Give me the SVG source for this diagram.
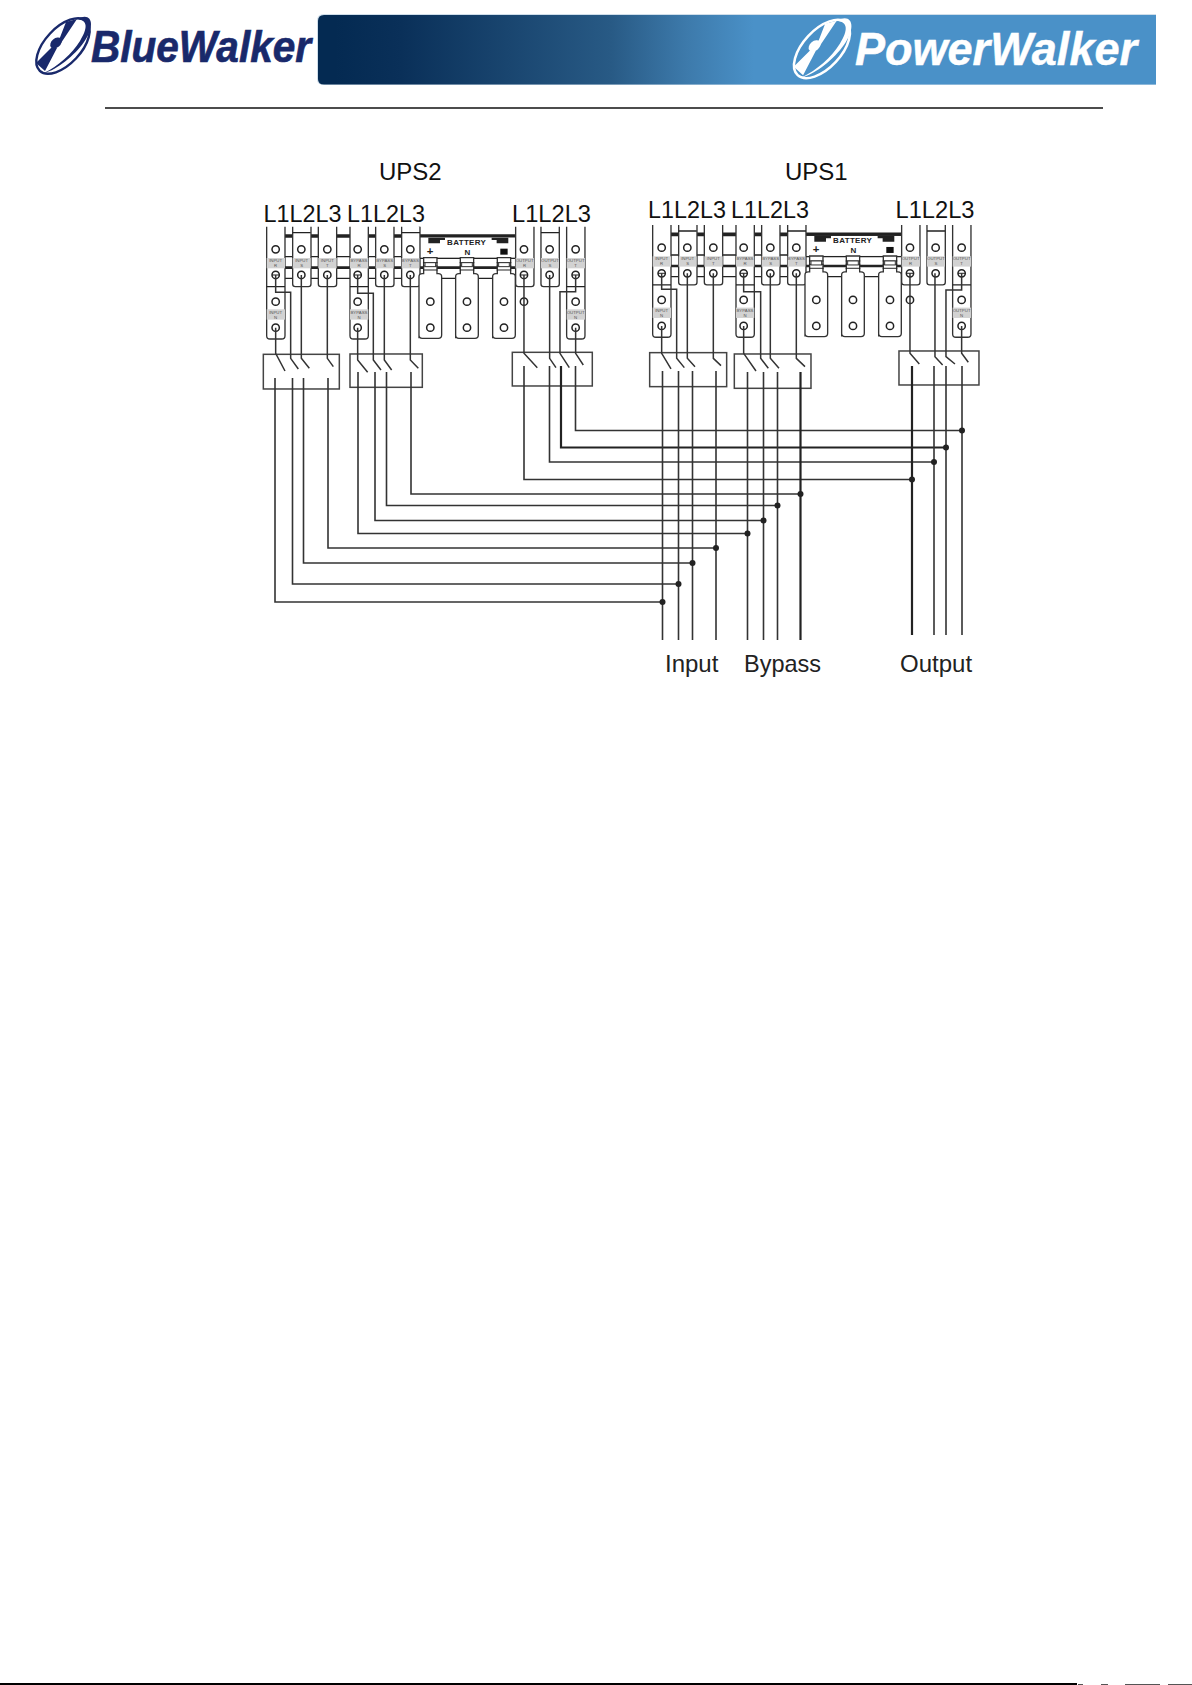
<svg xmlns="http://www.w3.org/2000/svg" xmlns:xlink="http://www.w3.org/1999/xlink" width="1192" height="1685" viewBox="0 0 1192 1685">
<style>
text{font-family:"Liberation Sans",Arial,sans-serif;fill:#222}
.big{font-size:24px;fill:#111}
.logo{font-weight:700;font-style:italic}
.lbl{font-size:13px;fill:#555;text-anchor:middle}
.lug{fill:#fff;stroke:#333;stroke-width:4}
.rail{stroke:#222;fill:none}
.hole{fill:#fff;stroke:#222;stroke-width:4.5}
.grey{fill:#d2d2d2}
.w{fill:none;stroke:#333;stroke-width:4.5}
.box{fill:none;stroke:#444;stroke-width:4.5}
.bus{fill:none;stroke:#333;stroke-width:1.6}
.heavy{fill:none;stroke:#222;stroke-width:2.2}
.dot{fill:#222}
</style>
<defs>
<linearGradient id="band" x1="318" x2="1156" y1="0" y2="0" gradientUnits="userSpaceOnUse">
<stop offset="0.02" stop-color="#042a52"/><stop offset="0.1" stop-color="#0a3059"/><stop offset="0.35" stop-color="#285a85"/><stop offset="0.44" stop-color="#3d7aab"/><stop offset="0.52" stop-color="#4a91c8"/><stop offset="1" stop-color="#4a91c8"/>
</linearGradient>
<g id="wheel">
<ellipse cx="0" cy="0" rx="34" ry="18" transform="rotate(-47)" fill="none" stroke="currentColor" stroke-width="2.4"/>
<path d="M14,-27 C29,-35 33,-21 21,-4 C12,9 -6,24 -19,27 C-5,20 9,8 17,-5 C25,-18 25,-26 14,-27Z" fill="currentColor"/>
<ellipse cx="-7" cy="-3" rx="6.500" ry="4.500" transform="rotate(-40 -7 -3)" fill="currentColor"/>
<path d="M-4,-6 L3,-24 L14,-27 L-2,-3Z M-10,0 L-27,17 L-18,25 L-6,2Z" fill="currentColor"/>
</g>
<path id="lug" class="lug" d="M0,110V282Q0,290 8,290H47Q55,290 55,282V110"/>
<path id="longlug" class="lug" d="M0,110V437Q0,447 10,447H45Q55,447 55,437V110"/>
<g id="blugtop">
<path class="lug" d="M0,447V262Q0,253 10,253H14V205H54V253H58Q68,253 68,262V437Q68,447 58,447H10Q0,447 0,437Z" transform="translate(0,-2)"/>
<path d="M12,218H56M12,228H56M12,240H56" class="rail" stroke-width="3"/>
<rect x="18" y="218" width="32" height="12" fill="#fff" stroke="#333" stroke-width="3"/>
<circle class="hole" cx="34" cy="335" r="11"/><circle class="hole" cx="34" cy="413" r="11"/>
</g>
<g id="terminals">
<path class="rail" stroke-width="11" d="M105,138H795"/>
<path class="rail" stroke-width="4" d="M105,200H795M105,265H795"/>
<path class="rail" stroke-width="8" d="M105,233H795"/>
<rect x="510" y="143" width="285" height="60" fill="#fff"/>
<path d="M535,143H585V150H570V160H535ZM725,143H775V160H740V150H725Z" fill="#222"/>
<path class="rail" stroke-width="4" d="M508,110V205H795"/>
<use xlink:href="#longlug" href="#longlug" x="50"/>
<use xlink:href="#lug" href="#lug" x="128"/>
<use xlink:href="#lug" href="#lug" x="205"/>
<use xlink:href="#longlug" href="#longlug" x="300"/>
<use xlink:href="#lug" href="#lug" x="377"/>
<use xlink:href="#lug" href="#lug" x="455"/>
<use xlink:href="#lug" href="#lug" x="797"/>
<use xlink:href="#lug" href="#lug" x="873"/>
<use xlink:href="#longlug" href="#longlug" x="950"/>
<path class="rail" stroke-width="4" d="M128,128H182M455,128H510M873,128H927M50,290H105M300,290H355M950,290H1005"/>
<use xlink:href="#blugtop" href="#blugtop" x="507"/>
<use xlink:href="#blugtop" href="#blugtop" x="617"/>
<use xlink:href="#blugtop" href="#blugtop" x="728"/>
<g class="grey"><rect x="50" y="204" width="55" height="31"/><rect x="128" y="204" width="54" height="31"/><rect x="205" y="204" width="55" height="31"/><rect x="300" y="204" width="55" height="31"/><rect x="377" y="204" width="54" height="31"/><rect x="455" y="204" width="53" height="31"/><rect x="797" y="204" width="55" height="31"/><rect x="873" y="204" width="54" height="31"/><rect x="950" y="204" width="55" height="31"/><rect x="50" y="358" width="55" height="31"/><rect x="300" y="358" width="55" height="31"/><rect x="950" y="358" width="55" height="31"/></g>
<g class="lbl">
<text class="lbl" x="77" y="215">INPUT</text><text class="lbl" x="77" y="231">R</text>
<text class="lbl" x="155" y="215">INPUT</text><text class="lbl" x="155" y="231">S</text>
<text class="lbl" x="232" y="215">INPUT</text><text class="lbl" x="232" y="231">T</text>
<text class="lbl" x="327" y="215">BYPASS</text><text class="lbl" x="327" y="231">R</text>
<text class="lbl" x="404" y="215">BYPASS</text><text class="lbl" x="404" y="231">S</text>
<text class="lbl" x="481" y="215">BYPASS</text><text class="lbl" x="481" y="231">T</text>
<text class="lbl" x="824" y="215">OUTPUT</text><text class="lbl" x="824" y="231">R</text>
<text class="lbl" x="900" y="215">OUTPUT</text><text class="lbl" x="900" y="231">S</text>
<text class="lbl" x="977" y="215">OUTPUT</text><text class="lbl" x="977" y="231">T</text>
<text class="lbl" x="77" y="371">INPUT</text><text class="lbl" x="77" y="386">N</text>
<text class="lbl" x="327" y="371">BYPASS</text><text class="lbl" x="327" y="386">N</text>
<text class="lbl" x="977" y="371">OUTPUT</text><text class="lbl" x="977" y="386">N</text>
</g>
<text x="650" y="164" text-anchor="middle" style="font-size:24px;font-weight:700;letter-spacing:1px;fill:#222">BATTERY</text>
<text x="540" y="195" text-anchor="middle" style="font-size:34px;font-weight:700;fill:#222">+</text>
<text x="652" y="195" text-anchor="middle" style="font-size:24px;font-weight:700;fill:#222">N</text>
<rect x="751" y="176" width="22" height="18" fill="#111"/>
<g class="hole">
<circle cx="77" cy="178" r="11"/><circle cx="154" cy="178" r="11"/><circle cx="232" cy="178" r="11"/><circle cx="323" cy="178" r="11"/><circle cx="403" cy="178" r="11"/><circle cx="481" cy="178" r="11"/><circle cx="822" cy="178" r="11"/><circle cx="899" cy="178" r="11"/><circle cx="977" cy="178" r="11"/>
<circle cx="77" cy="255" r="11"/><circle cx="154" cy="255" r="11"/><circle cx="232" cy="255" r="11"/><circle cx="323" cy="255" r="11"/><circle cx="403" cy="255" r="11"/><circle cx="481" cy="255" r="11"/><circle cx="822" cy="255" r="11"/><circle cx="899" cy="255" r="11"/><circle cx="977" cy="255" r="11"/>
<circle cx="77" cy="335" r="11"/><circle cx="323" cy="335" r="11"/><circle cx="977" cy="335" r="11"/><circle cx="822" cy="335" r="11"/>
<circle cx="77" cy="413" r="11"/><circle cx="323" cy="413" r="11"/><circle cx="977" cy="413" r="11"/>
</g>
<path class="rail" stroke-width="3" d="M66,255H88M312,255H334M811,255H833M966,255H988"/>
</g>
</defs>

<g id="header">
<path d="M1156,14H324Q317,14 317,21V79Q317,85 324,85H1156Z" fill="#cfdeea"/>
<path d="M1156,15H324Q318,15 318,21V79Q318,84.500 324,84.500H1156Z" fill="url(#band)"/>
<g id="logo-bluewalker" color="#19296b">
<use xlink:href="#wheel" href="#wheel" transform="translate(63,46)"/>
<text x="91" y="62" class="logo" style="font-size:45px;fill:#19296b;stroke:#19296b;stroke-width:0.7" textLength="220" lengthAdjust="spacingAndGlyphs">BlueWalker</text>
</g>
<g id="logo-powerwalker" color="#ffffff">
<use xlink:href="#wheel" href="#wheel" transform="translate(822,49) scale(1.05)"/>
<text x="855" y="65" class="logo" style="font-size:47px;fill:#ffffff;stroke:#ffffff;stroke-width:0.5" textLength="282" lengthAdjust="spacingAndGlyphs">PowerWalker</text>
</g>
<path d="M105,108H1103" stroke="#111" stroke-width="1.6"/>
</g>

<g id="ups2">
<text class="big" x="379" y="180">UPS2</text>
<text class="big" x="263.500" y="222" textLength="78" lengthAdjust="spacingAndGlyphs">L1L2L3</text>
<text class="big" x="347" y="222" textLength="78" lengthAdjust="spacingAndGlyphs">L1L2L3</text>
<text class="big" x="512" y="222" textLength="79" lengthAdjust="spacingAndGlyphs">L1L2L3</text>
<use id="ups2-terminals" xlink:href="#terminals" href="#terminals" transform="translate(250,190) scale(0.3333)"/>
</g>
<g id="ups1">
<text class="big" x="785" y="180">UPS1</text>
<text class="big" x="648" y="218" textLength="78" lengthAdjust="spacingAndGlyphs">L1L2L3</text>
<text class="big" x="731" y="218" textLength="78" lengthAdjust="spacingAndGlyphs">L1L2L3</text>
<text class="big" x="895.500" y="218" textLength="79" lengthAdjust="spacingAndGlyphs">L1L2L3</text>
<use id="ups1-terminals" xlink:href="#terminals" href="#terminals" transform="translate(636,188.300) scale(0.3333)"/>
</g>

<g id="switch-ups2-input" transform="translate(250,190) scale(0.3333)"><rect class="box" x="40" y="493" width="228" height="104"/></g>
<g id="switch-ups2-bypass" transform="translate(250,190) scale(0.3333)"><rect class="box" x="300" y="492" width="217" height="100"/></g>
<g id="switch-ups2-output" transform="translate(250,190) scale(0.3333)"><rect class="box" x="787" y="487" width="240" height="101"/></g>
<g id="switch-ups1-input" transform="translate(640,190) scale(0.3333)"><rect class="box" x="29" y="488" width="231" height="102"/></g>
<g id="switch-ups1-bypass" transform="translate(640,190) scale(0.3333)"><rect class="box" x="283" y="492" width="230" height="103"/></g>
<g id="switch-ups1-output" transform="translate(640,190) scale(0.3333)"><rect class="box" x="777" y="483" width="240" height="102"/></g>

<g id="connectors">
<g transform="translate(250,190) scale(0.3333)">
<path class="w" d="M77,255V307H122V505L145,537M77,413V490L105,543M154,255V505L178,535M232,255V505L250,530"/>
<path class="w" d="M323,255V310H370V510L393,540M323,413V510L353,547M403,255V510L425,540M481,255V510L505,535"/>
<path class="w" d="M822,255V490L862,533M899,255V505L918,533M977,255V305H930V490L958,533M977,413V490L1000,525"/>
</g>
<g transform="translate(640,190) scale(0.3333)">
<path class="w" d="M65,250V298H110V505L133,533M65,408V490L93,537M142,250V505L165,530M220,250V505L243,527"/>
<path class="w" d="M311,250V305H362V505L385,535M311,408V490L348,543M391,250V505L417,535M469,250V505L495,530"/>
<path class="w" d="M810,250V490L838,522M885,250V500L908,525M965,250V300H918V500L945,522M965,408V490L985,517"/>
</g>
<path class="bus" d="M275,378V602H662.500M292.500,378V584H678.500M303.500,378V563H692.500M328,378V548H716"/>
<path class="bus" d="M358,372V533.500H747.500M375,372V520.500H763.500M386.500,372V505.500H777.500M411,372V494H800"/>
<path class="bus" d="M524,366V479.500H912M549.500,366V462H934M575.500,366V430.500H962"/>
<path class="heavy" d="M561,366V447.500H946"/>
<path class="bus" d="M662.500,371V640M678.500,371V640M692.500,371V640M716,371V640"/>
<path class="bus" d="M747.500,372V640M763.500,372V640M777.500,372V640"/>
<path class="heavy" d="M800.500,372V640"/>
<path class="heavy" d="M912,366V635"/>
<path class="bus" d="M934,366V635M946,366V635M962,366V635"/>
<g class="dot">
<circle cx="662.500" cy="602" r="3"/><circle cx="678.500" cy="584" r="3"/><circle cx="692.500" cy="563" r="3"/><circle cx="716" cy="548" r="3"/>
<circle cx="747.500" cy="533.500" r="3"/><circle cx="763.500" cy="520.500" r="3"/><circle cx="777.500" cy="505.500" r="3"/><circle cx="800.500" cy="494" r="3"/>
<circle cx="912" cy="479.500" r="3"/><circle cx="934" cy="462" r="3"/><circle cx="946" cy="447.500" r="3"/><circle cx="962" cy="430.500" r="3"/>
</g>
</g>

<g id="bus-labels">
<text class="big" x="665" y="672" style="fill:#222">Input</text>
<text class="big" x="744" y="672" textLength="77" lengthAdjust="spacingAndGlyphs" style="fill:#222">Bypass</text>
<text class="big" x="900" y="672" style="fill:#222">Output</text>
</g>
<g id="footer">
<path d="M0,1684H1077" stroke="#000" stroke-width="2"/>
<path d="M1078,1684.500h5M1101,1684.500h7M1125,1684.500h35M1168,1684.500h24" stroke="#555" stroke-width="1"/>
</g>
</svg>
